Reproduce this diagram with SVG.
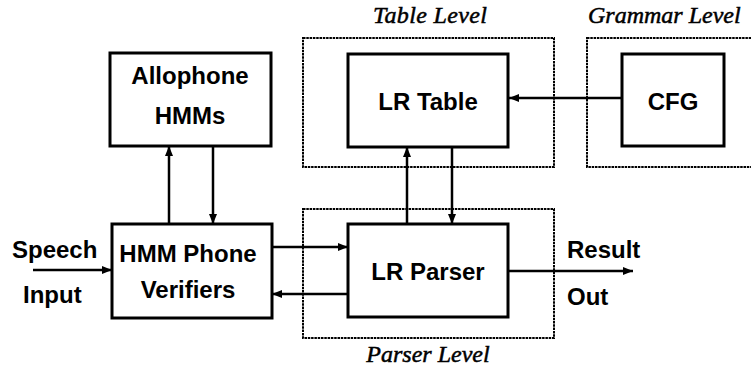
<svg xmlns="http://www.w3.org/2000/svg" width="751" height="372" viewBox="0 0 751 372">
  <style>
    .box { fill: #fff; stroke: #000; stroke-width: 3; }
    .level { fill: none; stroke: #000; stroke-width: 2; stroke-dasharray: 2.5 0.8; }
    .lbl { font-family: "Liberation Sans", Arial, sans-serif; font-weight: bold; font-size: 24px; fill: #000; text-anchor: middle; }
    .side { font-family: "Liberation Sans", Arial, sans-serif; font-weight: bold; font-size: 24px; fill: #000; }
    .cap { font-family: "Liberation Serif", "Times New Roman", serif; font-style: italic; font-size: 24px; fill: #000; stroke: #000; stroke-width: 0.5; }
    .wire { stroke: #000; stroke-width: 2.5; fill: none; marker-end: url(#head); }
  </style>
  <defs>
    <marker id="head" viewBox="0 0 10 10" refX="10" refY="5" markerWidth="4" markerHeight="4" orient="auto" markerUnits="strokeWidth">
      <path d="M0,1 L10,5 L0,9 z" fill="#000"/>
    </marker>
  </defs>

  <rect width="751" height="372" fill="#fff"/>

  <!-- level enclosures -->
  <g id="table-level">
    <rect class="level" x="303" y="38" width="251" height="129"/>
    <text class="cap" x="373" y="23" textLength="114">Table Level</text>
  </g>
  <g id="grammar-level">
    <rect class="level" x="587" y="38" width="180" height="129"/>
    <text class="cap" x="588" y="23">Grammar Level</text>
  </g>
  <g id="parser-level">
    <rect class="level" x="303" y="209" width="251" height="129"/>
    <text class="cap" x="428" y="362" text-anchor="middle">Parser Level</text>
  </g>

  <!-- connectors -->
  <g id="connectors">
    <line class="wire" x1="169" y1="224" x2="169" y2="146"/>
    <line class="wire" x1="213" y1="146" x2="213" y2="224"/>
    <line class="wire" x1="407" y1="224" x2="407" y2="147"/>
    <line class="wire" x1="452" y1="147" x2="452" y2="224"/>
    <line class="wire" x1="622" y1="98" x2="509" y2="98"/>
    <line class="wire" x1="272" y1="247" x2="348" y2="247"/>
    <line class="wire" x1="348" y1="294" x2="272" y2="294"/>
    <line class="wire" x1="33" y1="270" x2="112" y2="270"/>
    <line class="wire" x1="508" y1="271" x2="633" y2="271"/>
  </g>

  <!-- blocks -->
  <g id="allophone-hmms">
    <rect class="box" x="110" y="53" width="161" height="93"/>
    <text class="lbl" x="190" y="84">Allophone</text>
    <text class="lbl" x="190" y="124">HMMs</text>
  </g>
  <g id="lr-table">
    <rect class="box" x="348" y="54" width="160" height="93"/>
    <text class="lbl" x="428" y="110">LR Table</text>
  </g>
  <g id="cfg">
    <rect class="box" x="622" y="54" width="102" height="92"/>
    <text class="lbl" x="673" y="110">CFG</text>
  </g>
  <g id="hmm-phone-verifiers">
    <rect class="box" x="112" y="224" width="160" height="94"/>
    <text class="lbl" x="188" y="262">HMM Phone</text>
    <text class="lbl" x="188" y="298">Verifiers</text>
  </g>
  <g id="lr-parser">
    <rect class="box" x="348" y="224" width="160" height="93"/>
    <text class="lbl" x="428" y="280">LR Parser</text>
  </g>

  <!-- external terminals -->
  <g id="speech-input">
    <text class="side" x="12" y="258">Speech</text>
    <text class="side" x="23" y="303">Input</text>
  </g>
  <g id="result-out">
    <text class="side" x="567" y="258">Result</text>
    <text class="side" x="567" y="305">Out</text>
  </g>
</svg>
